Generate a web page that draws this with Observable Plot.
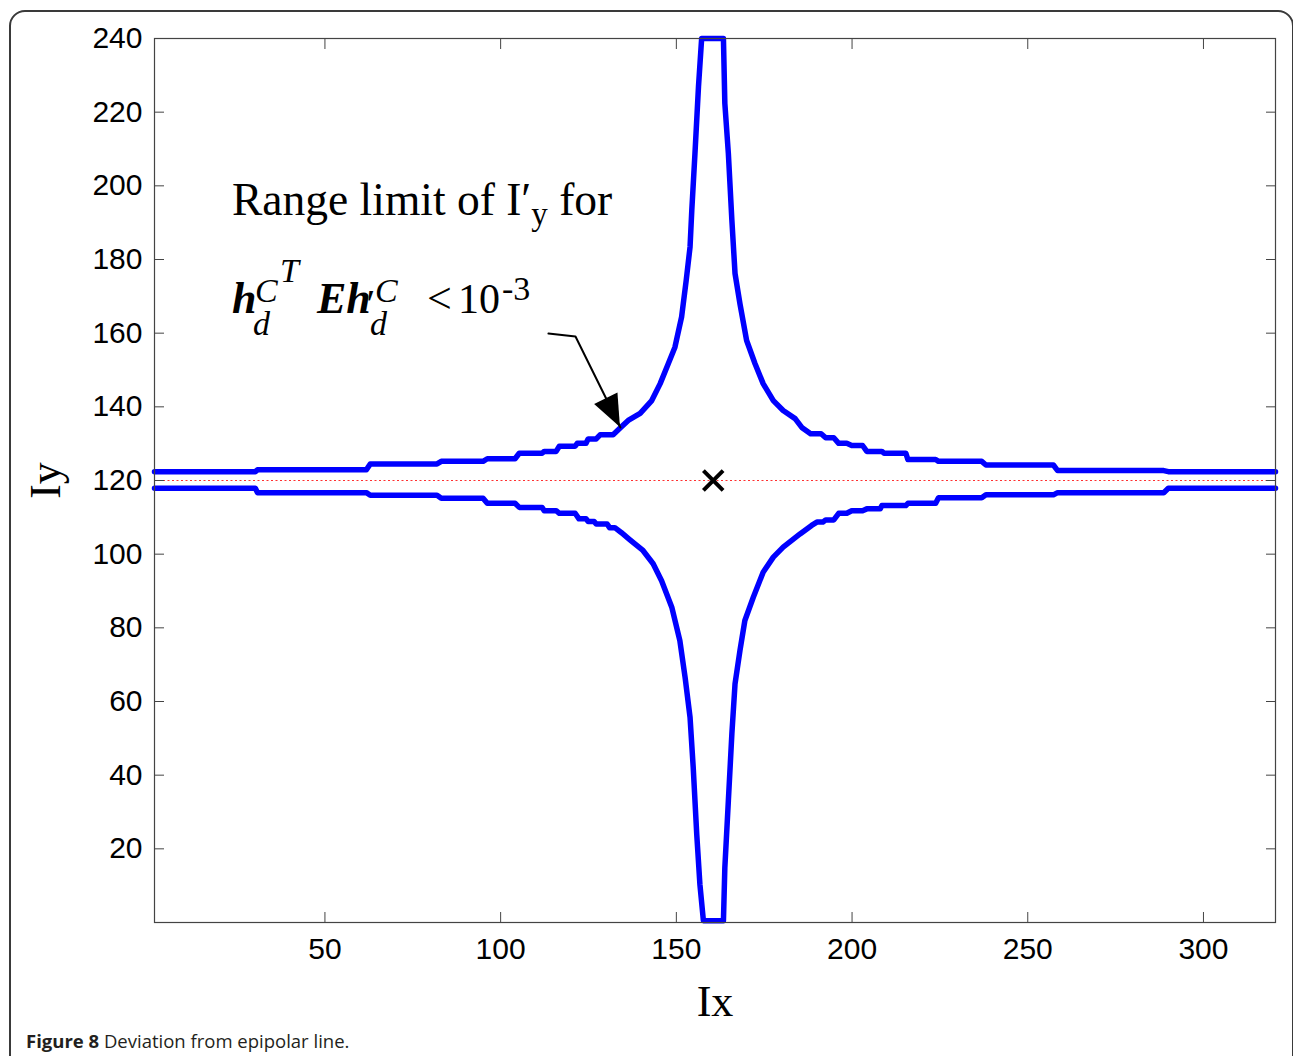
<!DOCTYPE html>
<html><head><meta charset="utf-8">
<script src="https://cdn.jsdelivr.net/npm/d3@7"></script>
<script src="https://cdn.jsdelivr.net/npm/@observablehq/plot@0.6"></script>
<style>
html,body{margin:0;padding:0;background:#fff;overflow:hidden;width:1293px;height:1056px;}
#box{position:absolute;left:9px;top:10px;width:1281px;height:1100px;border:2px solid #3a3a3a;border-radius:16px;}
#chart{position:absolute;left:0;top:0;}
#caption{position:absolute;left:26px;top:1028px;font-family:"Open Sans";font-size:18.5px;color:#231f20;white-space:nowrap;}
#caption b{font-weight:700;}
</style></head><body>
<div id="box"></div>
<div id="chart"></div>
<div id="caption"><b>Figure 8</b> Deviation from epipolar line.</div>
<script>
// ---- data ----
const xTicks = [50, 100, 150, 200, 250, 300];
const yTicks = [20, 40, 60, 80, 100, 120, 140, 160, 180, 200, 220, 240];
const xDomain = [1.5, 320.5];
const yDomain = [0, 240];

// upper boundary of admissible I'y
const upperX = [1.5,30.2,30.8,61.8,62.9,81.9,83.1,95.0,96.2,104.1,105.3,111.8,112.4,115.8,116.7,121.2,121.8,124.3,124.9,127.2,128.3,132.0,134.3,136.3,139.7,143.0,145.4,147.7,149.6,151.5,152.8,153.9,154.4,155.3,156.3,157.2,163.4,163.8,164.8,165.8,166.7,168.1,170.0,172.4,174.7,177.6,180.4,183.8,185.7,188.2,191.2,192.5,194.8,196.2,198.5,199.9,203.0,204.2,208.5,209.1,215.3,215.9,223.8,224.6,236.9,238.1,257.3,258.5,288.7,290.0,320.5];
const upperY = [122.4,122.4,122.9,122.9,124.5,124.5,125.2,125.2,125.9,125.9,127.4,127.4,127.9,127.9,129.3,129.3,130.1,130.1,131.3,131.3,132.4,132.4,134.5,136.3,138.2,141.7,146.3,151.7,156.2,164.4,174.3,183.4,193.4,208.8,226.9,240,240,222.4,208.8,190.7,176.2,168,158,151.7,146.3,141.7,139,136.8,134.4,132.7,132.7,131.6,131.6,130.1,130.1,129.5,129.5,127.9,127.9,127.4,127.4,125.7,125.7,125.2,125.2,124.2,124.2,122.7,122.7,122.4,122.4];

// lower boundary of admissible I'y
const lowerX = [1.5,30.2,30.8,61.8,62.9,81.9,83.1,95.0,96.2,104.1,105.3,111.8,112.4,115.8,116.7,121.2,122.3,124.3,124.9,126.6,127.2,130.3,131.0,132.5,134.3,136.8,140.5,143.4,145.8,148.7,151.0,152.5,153.9,154.8,155.8,156.7,157.7,163.4,163.8,164.8,165.8,166.7,168.1,169.5,171.9,174.7,177.6,180.4,185.2,188.5,190.0,191.7,192.5,194.8,196.2,198.5,199.9,203.0,204.2,208.0,208.5,215.3,215.9,223.8,224.6,236.9,238.1,257.3,258.5,288.7,290.0,320.5];
const lowerY = [117.9,117.9,116.7,116.7,116.0,116.0,115.2,115.2,113.8,113.8,112.7,112.7,111.8,111.8,111.1,111.1,109.6,109.6,108.9,108.9,108.2,108.2,107.2,107.2,105.9,103.9,101,97.4,92.8,85.6,76.5,66.5,55.7,42.1,24,10.4,0.5,0.5,14.9,33,51.2,64.8,73.8,82,88.3,95.1,99.2,101.9,105.5,107.8,108.7,108.7,109.3,109.3,111.1,111.1,111.8,111.8,112.3,112.3,113.2,113.2,113.8,113.8,115.3,115.3,116.1,116.1,116.7,116.7,117.9,117.9];

// epipole / reference point and epipolar line
const centerX = [160.5];
const centerY = [120];
const epipolarY = [120];

// annotation anchors (data units)
const noteX = 23.7, noteLine1Y = 192.0, noteLine2Y = 165.4;
const arrowX = [113.6, 121.3, 134.1];
const arrowY = [159.9, 159.1, 134.4];

const serif = "Liberation Serif, Times New Roman, serif";
const sans = "Liberation Sans, Arial, Helvetica, sans-serif";

const plot = Plot.plot({
  width: 1293,
  height: 1056,
  marginLeft: 154,
  marginRight: 18,
  marginTop: 38,
  marginBottom: 134,
  style: {background: "transparent", color: "#000"},
  x: {domain: xDomain, label: null},
  y: {domain: yDomain, label: null},
  marks: [
    Plot.ruleY(epipolarY, {stroke: "#ff3030", strokeWidth: 1.2, strokeDasharray: "2,2.5"}),
    Plot.line(upperX, {x: upperX, y: upperY, stroke: "#0000ff", strokeWidth: 5.5, strokeLinejoin: "round"}),
    Plot.line(lowerX, {x: lowerX, y: lowerY, stroke: "#0000ff", strokeWidth: 5.5, strokeLinejoin: "round"}),
    Plot.dot(centerX, {x: centerX, y: centerY, symbol: "times", r: 9, stroke: "#000", strokeWidth: 4}),
    Plot.line(arrowX, {x: arrowX, y: arrowY, stroke: "#000", strokeWidth: 2}),
    Plot.frame({stroke: "#444", strokeWidth: 1.2}),
    Plot.axisX(xTicks, {anchor: "bottom", tickSize: -10, tickPadding: 25, fontSize: 30, fontFamily: sans, stroke: "#444", label: null}),
    Plot.axisX(xTicks, {anchor: "top", tickSize: -10, tickFormat: () => "", stroke: "#444", label: null}),
    Plot.axisY(yTicks, {anchor: "left", tickSize: -10, tickPadding: 22, fontSize: 30, fontFamily: sans, stroke: "#444", label: null}),
    Plot.axisY(yTicks, {anchor: "right", tickSize: -10, tickFormat: () => "", stroke: "#444", label: null}),
    Plot.text(["Ix"], {frameAnchor: "bottom", dy: 79, text: d => d, textAnchor: "middle", lineAnchor: "middle", fontSize: 44, fontFamily: serif, fill: "#000"}),
    Plot.text(["Iy"], {frameAnchor: "left", dx: -109, rotate: -90, text: d => d, textAnchor: "middle", lineAnchor: "middle", fontSize: 44, fontFamily: serif, fill: "#000"})
  ]
});
document.getElementById("chart").append(plot);

// ---- annotation (positioned through the plot scales) ----
const sx = plot.scale("x"), sy = plot.scale("y");
const svg = d3.select(plot);
const g = svg.append("g").attr("fill", "#000").attr("text-anchor", "start").style("font-family", serif);
const x0 = sx.apply(noteX), b1 = sy.apply(noteLine1Y), b2 = sy.apply(noteLine2Y);

const t1 = g.append("text").attr("x", x0).attr("y", b1).attr("text-anchor", "start").style("font-size", "45.5px").style("white-space", "pre");
t1.append("tspan").text("Range limit of I\u2032");
t1.append("tspan").attr("dy", 10).style("font-size", "33px").text("y");
t1.append("tspan").attr("dy", -10).text(" for");

const parts = [
  {s: "h", dx: 0, dy: 0, size: 44, w: "bold", st: "italic"},
  {s: "d", dx: 21, dy: 22, size: 34, w: "normal", st: "italic"},
  {s: "C", dx: 23, dy: -11, size: 34, w: "normal", st: "italic"},
  {s: "T", dx: 48, dy: -31, size: 34, w: "normal", st: "italic"},
  {s: "Eh", dx: 85, dy: 0, size: 44, w: "bold", st: "italic"},
  {s: "\u2032", dx: 132, dy: 4, size: 40, w: "normal", st: "italic"},
  {s: "d", dx: 138, dy: 22, size: 34, w: "normal", st: "italic"},
  {s: "C", dx: 143, dy: -11, size: 34, w: "normal", st: "italic"},
  {s: "<", dx: 195, dy: 0, size: 44, w: "normal", st: "normal"},
  {s: "10", dx: 226, dy: 0, size: 42, w: "normal", st: "normal"},
  {s: "-3", dx: 270, dy: -13, size: 34, w: "normal", st: "normal"}
];
const t2 = g.append("text").attr("text-anchor", "start");
for (const p of parts) {
  t2.append("tspan").attr("x", x0 + p.dx).attr("y", b2 + p.dy)
    .style("font-size", p.size + "px").style("font-weight", p.w).style("font-style", p.st).text(p.s);
}

// filled arrow head at the end of the leader
const bx = sx.apply(arrowX[1]), by = sy.apply(arrowY[1]);
const tx = sx.apply(arrowX[2]), ty = sy.apply(arrowY[2]);
const len = Math.hypot(tx - bx, ty - by), ux = (tx - bx) / len, uy = (ty - by) / len;
const hl = 32, hw = 13;
const cx = tx - ux * hl, cy = ty - uy * hl;
g.append("path")
  .attr("d", `M${tx},${ty}L${cx - uy * hw},${cy + ux * hw}L${cx + uy * hw},${cy - ux * hw}Z`)
  .attr("fill", "#000");
</script>
</body></html>
